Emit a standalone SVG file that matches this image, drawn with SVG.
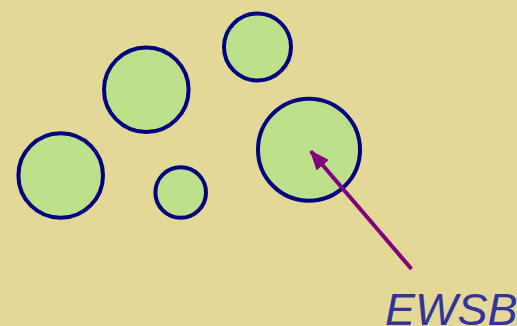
<svg xmlns="http://www.w3.org/2000/svg" width="517" height="326" viewBox="0 0 517 326">
<style>
.bubble{fill:#BFE08B;stroke:#000080;stroke-width:4}
.conn{stroke:#800080;stroke-width:4;fill:none}
.label{font-family:"Liberation Sans",Arial,sans-serif;font-style:italic;font-size:45px;fill:#333399}
</style>
<defs>
<marker id="ah" markerUnits="userSpaceOnUse" markerWidth="20" markerHeight="16" refX="18" refY="8" orient="auto">
<path d="M0,0 L20,8 L0,16 z" fill="#800080"/>
</marker>
</defs>
<rect width="517" height="326" fill="#E3D898"/>
<g id="b1"><circle class="bubble" cx="257.5" cy="47" r="33.5"/></g>
<g id="b2"><circle class="bubble" cx="146.3" cy="89.8" r="42.3"/></g>
<g id="b3"><circle class="bubble" cx="60.7" cy="175.5" r="42.3"/></g>
<g id="b4"><circle class="bubble" cx="180.7" cy="192.5" r="25.3"/></g>
<g id="b5"><circle class="bubble" cx="309" cy="149.7" r="51"/></g>
<g id="connectors">
<line class="conn" x1="411.5" y1="269" x2="311" y2="151.5" marker-end="url(#ah)"/>
</g>
<g id="lbl"><text class="label" x="385" y="325">EWSB</text></g>
</svg>
